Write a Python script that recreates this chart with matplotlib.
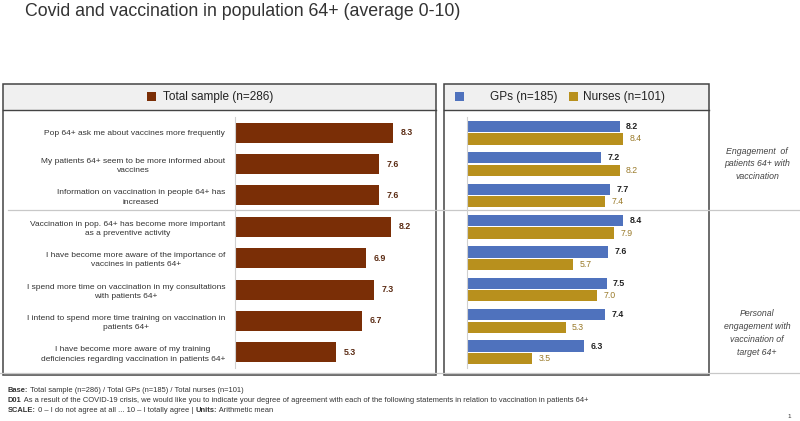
import matplotlib.pyplot as plt
from matplotlib.patches import Rectangle

plt.rcParams['font.family'] = ['Liberation Sans', 'DejaVu Sans']

statements = [
    "Pop 64+ ask me about vaccines more frequently",
    "My patients 64+ seem to be more informed about\nvaccines",
    "Information on vaccination in people 64+ has\nincreased",
    "Vaccination in pop. 64+ has become more important\nas a preventive activity",
    "I have become more aware of the importance of\nvaccines in patients 64+",
    "I spend more time on vaccination in my consultations\nwith patients 64+",
    "I intend to spend more time training on vaccination in\npatients 64+",
    "I have become more aware of my training\ndeficiencies regarding vaccination in patients 64+",
]
total = [8.3, 7.6, 7.6, 8.2, 6.9, 7.3, 6.7, 5.3]
gps = [8.2, 7.2, 7.7, 8.4, 7.6, 7.5, 7.4, 6.3]
nurses = [8.4, 8.2, 7.4, 7.9, 5.7, 7.0, 5.3, 3.5]

footer_lines = [
    [("Base:", True), (" Total sample (n=286) / Total GPs (n=185) / Total nurses (n=101)", False)],
    [("D01", True), (" As a result of the COVID-19 crisis, we would like you to indicate your degree of agreement with each of the following statements in relation to vaccination in patients 64+", False)],
    [("SCALE:", True), (" 0 – I do not agree at all ... 10 – I totally agree | ", False),
     ("Units:", True), (" Arithmetic mean", False)],
]

BROWN = "#7a2e06"
BLUE = "#4f72bd"
GOLD = "#b8901d"
W, H = 800, 421


def px_axes(fig, x0, y0, x1, y1):
    # axes placed by pixel box (top-left origin)
    return fig.add_axes([x0 / W, 1 - y1 / H, (x1 - x0) / W, (y1 - y0) / H])


def main():
    fig = plt.figure(figsize=(8, 4.21), dpi=100)
    renderer = fig.canvas.get_renderer()

    # background layer in pixel coordinates
    bg = fig.add_axes([0, 0, 1, 1])
    bg.set_xlim(0, W)
    bg.set_ylim(H, 0)
    bg.axis("off")

    bg.text(25, 12, "Covid and vaccination in population 64+ (average 0-10)",
            fontsize=12.8, color="#333333", va="center", ha="left")

    # separators
    bg.plot([8, 800], [210, 210], color="#c8c8c8", lw=0.9)
    bg.plot([0, 800], [373, 373], color="#c8c8c8", lw=0.9)

    # panel boxes
    for x0, x1 in [(3, 436), (444, 709)]:
        bg.add_patch(Rectangle((x0, 84), x1 - x0, 26, facecolor="#f0f0f0",
                               edgecolor="none"))
        bg.add_patch(Rectangle((x0, 84), x1 - x0, 375 - 84, facecolor="none",
                               edgecolor="#444444", lw=1.1))
        bg.plot([x0, x1], [110, 110], color="#444444", lw=1.0)

    # legends in headers
    bg.add_patch(Rectangle((147, 92), 9, 9, facecolor=BROWN))
    bg.text(163, 97, "Total sample (n=286)", fontsize=8.5, color="#222222",
            va="center", ha="left")
    bg.add_patch(Rectangle((455, 92), 9, 9, facecolor=BLUE))
    bg.text(490, 97, "GPs (n=185)", fontsize=8.5, color="#222222",
            va="center", ha="left")
    bg.add_patch(Rectangle((569, 92), 9, 9, facecolor=GOLD))
    bg.text(583, 97, "Nurses (n=101)", fontsize=8.5, color="#222222",
            va="center", ha="left")

    # group notes
    bg.text(757, 164, "Engagement  of\npatients 64+ with\nvaccination",
            fontsize=6.3, style="italic", color="#444444", ha="center",
            va="center", linespacing=1.55)
    bg.text(757, 333, "Personal\nengagement with\nvaccination of\ntarget 64+",
            fontsize=6.3, style="italic", color="#444444", ha="center",
            va="center", linespacing=1.55)

    # footer, bold and regular pieces placed one after another
    for y, pieces in zip([390, 401, 411], footer_lines):
        x = 8
        for txt, bold in pieces:
            t = bg.text(x, y, txt, fontsize=5.4, color="#333333", ha="left",
                        va="center", fontweight="bold" if bold else "normal")
            x += t.get_window_extent(renderer).width
    bg.text(789, 417, "1", fontsize=4.5, color="#333333", ha="center", va="center")

    rows = list(range(len(statements)))

    # left panel: total sample
    ax = px_axes(fig, 235, 117, 425, 368)
    ax.barh(rows, total, height=0.64, color=BROWN)
    for r, v in zip(rows, total):
        ax.text(v + 0.4, r, f"{v:.1f}", fontsize=6.3, fontweight="bold",
                color="#5a2a12", va="center", ha="left")
    ax.set_xlim(0, 10)
    ax.set_ylim(7.5, -0.5)
    ax.set_yticks(rows)
    ax.set_yticklabels(statements, fontsize=6, color="#333333",
                       multialignment="center", linespacing=1.45)
    ax.tick_params(axis="y", length=0, pad=7)
    ax.set_xticks([])
    for s in ["top", "right", "bottom"]:
        ax.spines[s].set_visible(False)
    ax.spines["left"].set_color("#d0d0d0")
    ax.spines["left"].set_linewidth(0.8)
    ax.patch.set_alpha(0)

    # right panel: GPs vs nurses
    ax2 = px_axes(fig, 467, 117, 653, 368)
    gp_rows = [r - 0.2 for r in rows]
    nu_rows = [r + 0.2 for r in rows]
    ax2.barh(gp_rows, gps, height=0.36, color=BLUE)
    ax2.barh(nu_rows, nurses, height=0.36, color=GOLD)
    for r, v in zip(gp_rows, gps):
        ax2.text(v + 0.35, r, f"{v:.1f}", fontsize=6.3, fontweight="bold",
                 color="#222222", va="center", ha="left")
    for r, v in zip(nu_rows, nurses):
        ax2.text(v + 0.35, r, f"{v:.1f}", fontsize=6.3,
                 color="#9a7a2a", va="center", ha="left")
    ax2.set_xlim(0, 10)
    ax2.set_ylim(7.5, -0.5)
    ax2.set_xticks([])
    ax2.set_yticks([])
    for s in ["top", "right", "bottom"]:
        ax2.spines[s].set_visible(False)
    ax2.spines["left"].set_color("#d0d0d0")
    ax2.spines["left"].set_linewidth(0.8)
    ax2.patch.set_alpha(0)

    fig.savefig("out.png", dpi=100)


if __name__ == "__main__":
    main()
